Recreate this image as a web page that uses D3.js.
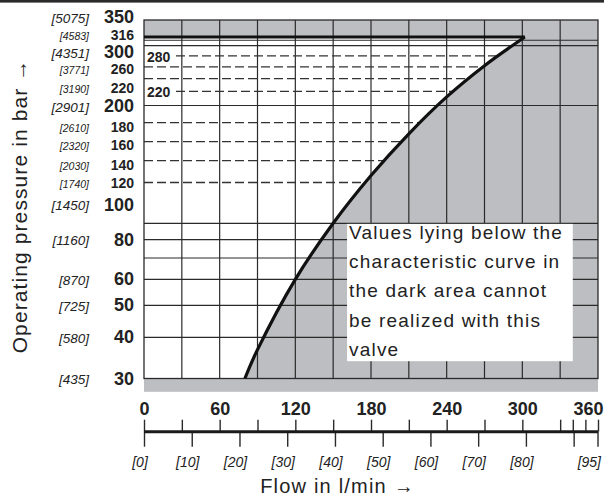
<!DOCTYPE html>
<html><head><meta charset="utf-8">
<script src="https://cdn.jsdelivr.net/npm/d3@7"></script>
<style>
html,body{margin:0;padding:0;background:#fff;}
svg{display:block;}
text{font-family:"Liberation Sans", Arial, Helvetica, sans-serif;fill:#222;}
</style></head><body>
<svg id="chart" width="604" height="497"></svg>
<script>
// ---------- data ----------
const curveFlow = [80, 90, 120, 150, 180, 210, 240, 270, 302];
const curvePressure = [30, 36.7, 60, 90, 126, 168, 212, 262, 316];
const maxPressure = 316;
const pressureTicks = [350, 316, 300, 260, 220, 200, 180, 160, 140, 120, 100, 80, 60, 50, 40, 30];
const psiTicks = ["[5075]", "[4583]", "[4351]", "[3771]", "[3190]", "[2901]", "[2610]", "[2320]", "[2030]", "[1740]", "[1450]", "[1160]", "[870]", "[725]", "[580]", "[435]"];
const majorPressureTicks = [350, 300, 200, 100, 80, 60, 50, 40, 30];
const solidGridPressures = [40, 50, 60, 70, 80, 90, 200, 300, 310];
const dashedPressures = [280, 260, 240, 220, 180, 160, 140, 120];
const insideLabelPressures = [280, 220];
const flowTicks = [0, 30, 60, 90, 120, 150, 180, 210, 240, 270, 300, 330, 360];
const flowLabels = [0, 60, 120, 180, 240, 300, 360];
const extraFlowTicks = [340, 350];
const gpmTicks = [0, 10, 20, 30, 40, 50, 60, 70, 80, 90, 95];
const gpmLabels = ["[0]", "[10]", "[20]", "[30]", "[40]", "[50]", "[60]", "[70]", "[80]", "", "[95]"];
const noteLines = ["Values lying below the", "characteristic curve in", "the dark area cannot", "be realized with this", "valve"];
const yTitle = "Operating pressure in bar \u2192";
const xTitle = "Flow in l/min \u2192";

// ---------- layout ----------
const W = 604, H = 497;
const GRAY = "#bdbec1", INK = "#2a2a2a";
const labelNudge = {350: -3, 316: -2, 300: 6.5, 260: 2.5, 220: -3, 200: 0.5, 180: 4, 160: 3.5, 140: 4.5, 100: -3.5};

const svg = d3.select("#chart");
const x = d3.scaleLinear().domain([0, 360]).range([144, 598]);
const y = d3.scaleLog()
  .domain([30, 60, 90, 160, 200, 300, 350])
  .range([378.5, 279.3, 223.3, 141.7, 105.5, 45.7, 20]);
const xg = d3.scaleLinear().domain([0, 360 / 3.785411784]).range([144, 598]);

const pts = curveFlow.map((f, i) => ({f, p: curvePressure[i]}));
const crv = d3.curveCatmullRom.alpha(0.5);

// top rule
svg.append("rect").attr("x", 0).attr("y", 0).attr("width", W).attr("height", 2.6).attr("fill", INK);

// gray areas
svg.append("rect").attr("x", x(0)).attr("y", y(350))
  .attr("width", x(360) - x(0)).attr("height", y(maxPressure) - y(350)).attr("fill", GRAY);
svg.append("path").datum(pts)
  .attr("d", d3.area().curve(crv).y(d => y(d.p)).x0(d => x(d.f)).x1(x(360)))
  .attr("fill", GRAY);
svg.append("rect").attr("x", x(0)).attr("y", y(30))
  .attr("width", x(360) - x(0)).attr("height", 13.3).attr("fill", GRAY);

// clip for dashed lines (white area left of the curve)
svg.append("clipPath").attr("id", "whiteArea").append("path").datum(pts)
  .attr("d", d3.area().curve(crv).y(d => y(d.p)).x0(x(0)).x1(d => x(d.f)));

// vertical grid
svg.append("g").selectAll("line").data(flowTicks.slice(1, -1)).join("line")
  .attr("x1", d => x(d)).attr("x2", d => x(d))
  .attr("y1", y(350)).attr("y2", y(30))
  .attr("stroke", INK).attr("stroke-width", 1.2);

// horizontal solid grid
svg.append("g").selectAll("line").data(solidGridPressures).join("line")
  .attr("x1", x(0)).attr("x2", x(360))
  .attr("y1", d => y(d)).attr("y2", d => y(d))
  .attr("stroke", INK).attr("stroke-width", 1.2);

// dashed lines
svg.append("g").attr("clip-path", "url(#whiteArea)")
  .selectAll("line").data(dashedPressures).join("line")
  .attr("x1", d => insideLabelPressures.includes(d) ? x(0) + 32 : x(0)).attr("x2", x(360))
  .attr("y1", d => y(d)).attr("y2", d => y(d))
  .attr("stroke", "#333").attr("stroke-width", 1.3).attr("stroke-dasharray", "9,4");

// frame
svg.append("rect").attr("x", x(0)).attr("y", y(350))
  .attr("width", x(360) - x(0)).attr("height", y(30) - y(350))
  .attr("fill", "none").attr("stroke", INK).attr("stroke-width", 1.3);

// max pressure thick line
svg.append("line").attr("x1", x(0)).attr("x2", x(curveFlow[curveFlow.length - 1]))
  .attr("y1", y(maxPressure)).attr("y2", y(maxPressure))
  .attr("stroke", "#111").attr("stroke-width", 3);

// characteristic curve
svg.append("path").datum(pts)
  .attr("d", d3.line().curve(crv).x(d => x(d.f)).y(d => y(d.p)))
  .attr("fill", "none").attr("stroke", "#111").attr("stroke-width", 3.2);

// note box
const bx = x(161), by = y(90) + 0.6, bw = x(340) - x(161), bh = y(34) - y(90);
svg.append("rect").attr("x", bx).attr("y", by).attr("width", bw).attr("height", bh).attr("fill", "#fff");
svg.append("g").selectAll("text").data(noteLines).join("text")
  .attr("x", bx + 2).attr("y", (d, i) => by + 15 + i * 29.2)
  .attr("font-size", 19).attr("letter-spacing", 1.2).text(d => d);

// inside labels
svg.append("g").selectAll("text").data(insideLabelPressures).join("text")
  .attr("x", x(0) + 3).attr("y", d => y(d) + 1)
  .attr("dominant-baseline", "central")
  .attr("font-size", 14).attr("font-weight", "bold").text(d => d);

// left pressure labels
svg.append("g").selectAll("text").data(pressureTicks).join("text")
  .attr("x", 134).attr("y", d => y(d) + (labelNudge[d] || 0))
  .attr("text-anchor", "end").attr("dominant-baseline", "central")
  .attr("font-weight", "bold")
  .attr("font-size", d => majorPressureTicks.includes(d) ? 18 : 14)
  .text(d => d);
svg.append("g").selectAll("text").data(pressureTicks).join("text")
  .attr("x", 89).attr("y", d => y(d) + (labelNudge[d] || 0) + 1)
  .attr("text-anchor", "end").attr("dominant-baseline", "central")
  .attr("font-style", "italic")
  .attr("font-size", d => majorPressureTicks.includes(d) ? 13.5 : 10.5)
  .text((d, i) => psiTicks[i]);

// y title
svg.append("text").attr("transform", "translate(27,206) rotate(-90)")
  .attr("text-anchor", "middle").attr("font-size", 21).attr("letter-spacing", 1.1)
  .text(yTitle);

// bottom axes
const axisY = 431.7;
const topAxis = svg.append("g").attr("transform", `translate(0,${axisY})`)
  .call(d3.axisTop(x).tickValues(flowTicks.concat(extraFlowTicks)).tickSize(12).tickSizeOuter(0).tickPadding(5)
    .tickFormat(d => flowLabels.includes(d) ? d : ""));
topAxis.select(".domain").remove();
topAxis.selectAll("line").attr("stroke", INK).attr("stroke-width", 1.4);
topAxis.selectAll("text").attr("font-size", 18).attr("font-weight", "bold")
  .attr("font-family", null).attr("fill", "#222")
  .attr("text-anchor", d => d === 360 ? "end" : "middle")
  .attr("dx", d => d === 360 ? 5 : 0);

const botAxis = svg.append("g").attr("transform", `translate(0,${axisY})`)
  .call(d3.axisBottom(xg).tickValues(gpmTicks).tickSize(15).tickSizeOuter(0).tickPadding(10)
    .tickFormat((d, i) => gpmLabels[i]));
botAxis.select(".domain").remove();
botAxis.selectAll("line").attr("stroke", INK).attr("stroke-width", 1.4);
botAxis.selectAll("text").attr("font-size", 14).attr("font-style", "italic")
  .attr("font-family", null).attr("fill", "#222")
  .attr("text-anchor", d => d === 95 ? "end" : "middle")
  .attr("dx", d => d === 95 ? 3 : -4.5);

svg.append("line").attr("x1", x(0)).attr("x2", x(360)).attr("y1", axisY).attr("y2", axisY)
  .attr("stroke", "#1a1a1a").attr("stroke-width", 3);

// x title
svg.append("text").attr("x", 337.5).attr("y", 493).attr("text-anchor", "middle")
  .attr("font-size", 20).attr("letter-spacing", 1.2).text(xTitle);
</script>
</body></html>
